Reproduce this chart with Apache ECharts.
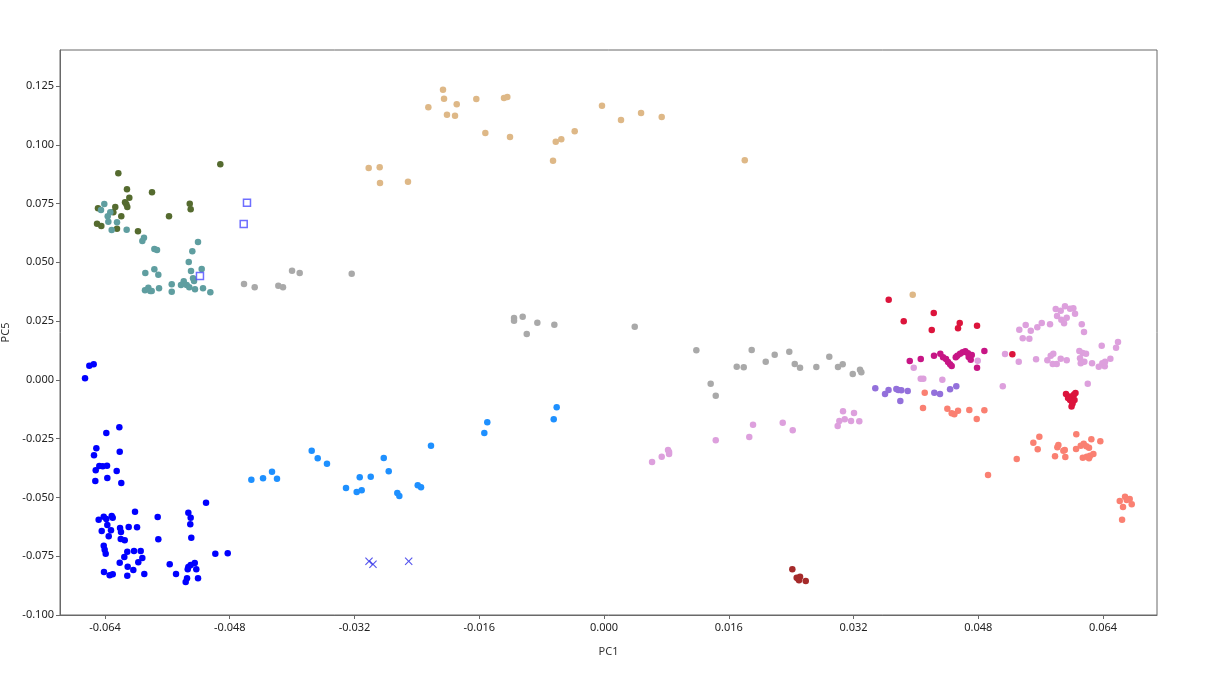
<!DOCTYPE html>
<html>
<head>
<meta charset="utf-8">
<script src="https://cdn.jsdelivr.net/npm/echarts@6/dist/echarts.min.js"></script>
<style>
  html, body { margin: 0; padding: 0; background: #fff; }
  #chart { width: 1218px; height: 685px; }
</style>
</head>
<body>
<div id="chart"></div>
<script>
// tick positions
const xTicks = [-0.064, -0.048, -0.032, -0.016, 0, 0.016, 0.032, 0.048, 0.064];
const yTicks = [-0.1, -0.075, -0.05, -0.025, 0, 0.025, 0.05, 0.075, 0.1, 0.125];

// [PC1, PC5] per group
const blue = [
  [-0.06601, 0.00604], [-0.06545, 0.00664], [-0.06656, 0.00068], [-0.06216, -0.02016], [-0.06383, -0.02259],
  [-0.06511, -0.02909], [-0.06211, -0.03054], [-0.06541, -0.03207], [-0.06473, -0.03662], [-0.06429, -0.03675],
  [-0.06374, -0.03650], [-0.06519, -0.03845], [-0.06250, -0.03875], [-0.06524, -0.04300], [-0.06370, -0.04173],
  [-0.06191, -0.04385], [-0.05104, -0.05223], [-0.06015, -0.05606], [-0.05331, -0.05649], [-0.06481, -0.05946],
  [-0.06416, -0.05819], [-0.06383, -0.05917], [-0.06314, -0.05789], [-0.06301, -0.05861], [-0.05724, -0.05832],
  [-0.05301, -0.05861], [-0.06370, -0.06172], [-0.06323, -0.06397], [-0.06442, -0.06427], [-0.06207, -0.06299],
  [-0.06195, -0.06470], [-0.06096, -0.06257], [-0.05989, -0.06270], [-0.05306, -0.06142], [-0.06352, -0.06652],
  [-0.06198, -0.06767], [-0.06147, -0.06823], [-0.05716, -0.06780], [-0.05293, -0.06712], [-0.06416, -0.07052],
  [-0.06404, -0.07222], [-0.06391, -0.07393], [-0.06114, -0.07307], [-0.06028, -0.07278], [-0.05942, -0.07278],
  [-0.06152, -0.07533], [-0.05921, -0.07576], [-0.04985, -0.07393], [-0.04826, -0.07376], [-0.06211, -0.07775],
  [-0.05973, -0.07758], [-0.05570, -0.07844], [-0.06109, -0.07946], [-0.06037, -0.08086], [-0.05331, -0.07958],
  [-0.05301, -0.07873], [-0.05249, -0.07788], [-0.05229, -0.08056], [-0.05339, -0.08056], [-0.06413, -0.08171],
  [-0.06340, -0.08311], [-0.06301, -0.08269], [-0.06114, -0.08328], [-0.05896, -0.08256], [-0.05489, -0.08256],
  [-0.05207, -0.08439], [-0.05348, -0.08439], [-0.05365, -0.08596]
];
const olive = [
  [-0.06229, 0.08788], [-0.04921, 0.09171], [-0.06118, 0.08107], [-0.06088, 0.07750], [-0.05797, 0.07980],
  [-0.06143, 0.07554], [-0.06126, 0.07469], [-0.06114, 0.07354], [-0.06268, 0.07354], [-0.06490, 0.07299],
  [-0.06293, 0.07129], [-0.06191, 0.06959], [-0.05313, 0.07495], [-0.05301, 0.07256], [-0.05579, 0.06959],
  [-0.06502, 0.06644], [-0.06447, 0.06546], [-0.06246, 0.06431], [-0.05977, 0.06321]
];
const teal = [
  [-0.06409, 0.07482], [-0.06451, 0.07227], [-0.06332, 0.07129], [-0.06365, 0.06959], [-0.06357, 0.06729],
  [-0.06246, 0.06704], [-0.06314, 0.06376], [-0.06122, 0.06389], [-0.05900, 0.06048], [-0.05921, 0.05908],
  [-0.05207, 0.05866], [-0.05280, 0.05470], [-0.05767, 0.05568], [-0.05733, 0.05525], [-0.05326, 0.05015],
  [-0.05767, 0.04704], [-0.05716, 0.04475], [-0.05883, 0.04547], [-0.05160, 0.04717], [-0.05297, 0.04632],
  [-0.05271, 0.04322], [-0.05258, 0.04207], [-0.05390, 0.04194], [-0.05425, 0.04037], [-0.05352, 0.04037],
  [-0.05319, 0.03939], [-0.05544, 0.04066], [-0.05544, 0.03752], [-0.05707, 0.03896], [-0.05887, 0.03811],
  [-0.05844, 0.03922], [-0.05819, 0.03781], [-0.05801, 0.03781], [-0.05246, 0.03854], [-0.05143, 0.03896],
  [-0.05049, 0.03726]
];
const gray = [
  [-0.04001, 0.04645], [-0.03903, 0.04547], [-0.03236, 0.04517], [-0.04617, 0.04079], [-0.04480, 0.03939],
  [-0.04177, 0.04007], [-0.04117, 0.03939], [-0.01154, 0.02633], [-0.01154, 0.02518], [-0.01043, 0.02688],
  [-0.00855, 0.02433], [-0.00637, 0.02348], [-0.00991, 0.01952], [0.00394, 0.02263], [0.01184, 0.01259],
  [0.01894, 0.01272], [0.01702, 0.00561], [0.01792, 0.00536], [0.02074, 0.00774], [0.02189, 0.01072],
  [0.02376, 0.01200], [0.02446, 0.00676], [0.02514, 0.00519], [0.02723, 0.00549], [0.02889, 0.00987],
  [0.03001, 0.00549], [0.03061, 0.00664], [0.03190, 0.00251], [0.03283, 0.00434], [0.03300, 0.00323],
  [0.01368, -0.00162], [0.01433, -0.00672]
];
const tan = [
  [-0.02065, 0.12344], [-0.02052, 0.11961], [-0.01889, 0.11723], [-0.02253, 0.11595], [-0.02014, 0.11280],
  [-0.01911, 0.11238], [-0.01638, 0.11948], [-0.01283, 0.11991], [-0.01240, 0.12033], [-0.01522, 0.10502],
  [-0.01206, 0.10332], [-0.00026, 0.11663], [0.00218, 0.11055], [0.00475, 0.11353], [0.00740, 0.11182],
  [-0.00376, 0.10574], [-0.00619, 0.10132], [-0.00548, 0.10234], [-0.00654, 0.09324], [0.01805, 0.09341],
  [-0.03018, 0.09013], [-0.02877, 0.09043], [-0.02873, 0.08375], [-0.02514, 0.08430], [0.03959, 0.03624]
];
const dodger = [
  [-0.04523, -0.04245], [-0.04373, -0.04186], [-0.04258, -0.03905], [-0.04194, -0.04203], [-0.03749, -0.03012],
  [-0.03672, -0.03335], [-0.03553, -0.03564], [-0.03309, -0.04598], [-0.03172, -0.04768], [-0.03108, -0.04696],
  [-0.03133, -0.04143], [-0.02992, -0.04117], [-0.02825, -0.03322], [-0.02761, -0.03888], [-0.02651, -0.04811],
  [-0.02625, -0.04938], [-0.02389, -0.04483], [-0.02347, -0.04568], [-0.02219, -0.02799], [-0.01535, -0.02259],
  [-0.01497, -0.01803], [-0.00645, -0.01676], [-0.00607, -0.01165]
];
const plum = [
  [0.00616, -0.03492], [0.00740, -0.03267], [0.00821, -0.02982], [0.00834, -0.03067], [0.00834, -0.03152],
  [0.01433, -0.02569], [0.01863, -0.02429], [0.01911, -0.01906], [0.02292, -0.01820], [0.02420, -0.02144],
  [0.02997, -0.01961], [0.03018, -0.01748], [0.03065, -0.01336], [0.03087, -0.01676], [0.03168, -0.01748],
  [0.03206, -0.01408], [0.03274, -0.01761], [0.03972, 0.00519], [0.04062, 0.00051], [0.04095, 0.00051],
  [0.04339, 0.00009], [0.04793, 0.00817], [0.05793, 0.03016], [0.05857, 0.02943], [0.05912, 0.03131],
  [0.05977, 0.03029], [0.06019, 0.03046], [0.06041, 0.02816], [0.05810, 0.02718], [0.05865, 0.02561],
  [0.05934, 0.02646], [0.05900, 0.02407], [0.05720, 0.02365], [0.05614, 0.02420], [0.05557, 0.02237],
  [0.05473, 0.02093], [0.05408, 0.02335], [0.05326, 0.02135], [0.05370, 0.01769], [0.05455, 0.01752],
  [0.06127, 0.02365], [0.06156, 0.02037], [0.05143, 0.01102], [0.05319, 0.00774], [0.05541, 0.00876],
  [0.05686, 0.00834], [0.05729, 0.01029], [0.05762, 0.01114], [0.05755, 0.00676], [0.05806, 0.00676],
  [0.05857, 0.00902], [0.05934, 0.00834], [0.06096, 0.01229], [0.06139, 0.01144], [0.06182, 0.01114],
  [0.06105, 0.00919], [0.06114, 0.00706], [0.06160, 0.00774], [0.06259, 0.00706], [0.06345, 0.00561],
  [0.06391, 0.00706], [0.06422, 0.00578], [0.06426, 0.00774], [0.06494, 0.00902], [0.06383, 0.01455],
  [0.06567, 0.01370], [0.06592, 0.01612], [0.05114, -0.00272], [0.06204, -0.00162]
];
const crimson = [
  [0.03651, 0.03411], [0.04229, 0.02846], [0.03844, 0.02493], [0.04203, 0.02122], [0.04562, 0.02420],
  [0.04540, 0.02195], [0.04784, 0.02305], [0.05237, 0.01089], [0.05925, -0.00600], [0.05977, -0.00706],
  [0.06028, -0.00621], [0.06047, -0.00557], [0.05996, -0.00897], [0.06034, -0.00855], [0.05977, -0.00855],
  [0.06009, -0.01004], [0.05996, -0.01131], [0.05951, -0.00770]
];
const violetRed = [
  [0.03921, 0.00804], [0.04062, 0.00889], [0.04232, 0.01029], [0.04313, 0.01114], [0.04348, 0.00961],
  [0.04386, 0.00889], [0.04412, 0.00761], [0.04438, 0.00664], [0.04459, 0.00591], [0.04511, 0.00961],
  [0.04531, 0.01029], [0.04566, 0.01114], [0.04600, 0.01174], [0.04634, 0.01217], [0.04668, 0.01131],
  [0.04677, 0.00974], [0.04703, 0.00859], [0.04716, 0.01059], [0.04784, 0.00519], [0.04878, 0.01229]
];
const purple = [
  [0.03479, -0.00357], [0.03604, -0.00600], [0.03649, -0.00430], [0.03749, -0.00387], [0.03774, -0.00430],
  [0.03813, -0.00442], [0.03895, -0.00472], [0.03800, -0.00897], [0.04236, -0.00544], [0.04309, -0.00600],
  [0.04438, -0.00400], [0.04518, -0.00272]
];
const salmon = [
  [0.04113, -0.00544], [0.04091, -0.01195], [0.04403, -0.01225], [0.04459, -0.01421], [0.04493, -0.01463],
  [0.04540, -0.01310], [0.04685, -0.01280], [0.04780, -0.01663], [0.04878, -0.01293], [0.04925, -0.04045],
  [0.05506, -0.02671], [0.05583, -0.02416], [0.05562, -0.02952], [0.05293, -0.03365], [0.05827, -0.02769],
  [0.05814, -0.02867], [0.05909, -0.02982], [0.05891, -0.03012], [0.05784, -0.03250], [0.05916, -0.03279],
  [0.06057, -0.02314], [0.06054, -0.02939], [0.06114, -0.02799], [0.06152, -0.02714], [0.06186, -0.02824],
  [0.06220, -0.02884], [0.06250, -0.02527], [0.06365, -0.02612], [0.06140, -0.03309], [0.06191, -0.03267],
  [0.06220, -0.03335], [0.06276, -0.03152], [0.06233, -0.03224], [0.06614, -0.05151], [0.06682, -0.04968],
  [0.06742, -0.05066], [0.06768, -0.05291], [0.06656, -0.05406], [0.06644, -0.05946], [0.06704, -0.05108]
];
const brown = [
  [0.02415, -0.08056], [0.02471, -0.08413], [0.02492, -0.08469], [0.02514, -0.08371], [0.02501, -0.08524],
  [0.02587, -0.08554]
];
const squares = [[-0.04579, 0.07537], [-0.04621, 0.06631], [-0.05182, 0.04419]];
const crosses = [[-0.03014, -0.07716], [-0.02963, -0.07844], [-0.02505, -0.07716]];

const dotGroups = [
  [olive, '#556B2F'], [teal, '#5F9EA0'], [blue, '#0000FF'], [gray, '#A9A9A9'], [tan, '#DEB887'],
  [dodger, '#1E90FF'], [plum, '#DDA0DD'], [purple, '#9370DB'], [salmon, '#FA8072'],
  [violetRed, '#C71585'], [crimson, '#DC143C'], [brown, '#A52A2A']
];

const crossPath = 'path://M0,1L1,0L5,4L9,0L10,1L6,5L10,9L9,10L5,6L1,10L0,9L4,5Z';
const font = '"Noto Sans", "Open Sans", sans-serif';
const frame = '#696969';

const series = dotGroups.map(([pts, color]) => ({
  type: 'scatter',
  data: pts,
  symbol: 'circle',
  symbolSize: 6.5,
  itemStyle: { color: color, opacity: 1 },
  silent: true
}));
series.push({
  type: 'scatter',
  data: squares,
  symbol: 'rect',
  symbolSize: 7,
  itemStyle: { color: '#ffffff', borderColor: '#4a4aff', borderWidth: 1.5 },
  silent: true
});
series.push({
  type: 'scatter',
  data: crosses,
  symbol: crossPath,
  symbolSize: 8,
  itemStyle: { color: '#2a2ae8' },
  silent: true
});

const chart = echarts.init(document.getElementById('chart'), null, { renderer: 'canvas' });
chart.setOption({
  animation: false,
  backgroundColor: '#ffffff',
  textStyle: { fontFamily: font },
  grid: {
    left: 60, top: 50, right: 61, bottom: 70,
    outerBoundsMode: 'none', containLabel: false,
    show: true, borderColor: frame, borderWidth: 1, backgroundColor: 'transparent'
  },
  xAxis: {
    type: 'value',
    min: -0.06977, max: 0.07092,
    name: 'PC1', nameLocation: 'middle', nameGap: 31,
    nameTextStyle: { fontSize: 11, color: '#333', fontFamily: font },
    axisLine: { show: true, onZero: false, lineStyle: { color: frame, width: 1 } },
    axisTick: { show: true, inside: false, length: 4, customValues: xTicks, lineStyle: { color: frame } },
    axisLabel: {
      customValues: xTicks, fontSize: 11, color: '#222', margin: 7, fontFamily: font,
      formatter: v => v.toFixed(3)
    },
    splitLine: { show: false }
  },
  yAxis: {
    type: 'value',
    min: -0.1, max: 0.14032,
    name: 'PC5', nameLocation: 'middle', nameGap: 40, nameRotate: 90,
    nameTextStyle: { fontSize: 11, color: '#333', fontFamily: font },
    axisLine: { show: true, onZero: false, lineStyle: { color: frame, width: 1 } },
    axisTick: { show: true, inside: false, length: 4, customValues: yTicks, lineStyle: { color: frame } },
    axisLabel: {
      customValues: yTicks, fontSize: 11, color: '#222', margin: 6, fontFamily: font,
      formatter: v => v.toFixed(3)
    },
    splitLine: { show: false }
  },
  series: series
});
</script>
</body>
</html>
